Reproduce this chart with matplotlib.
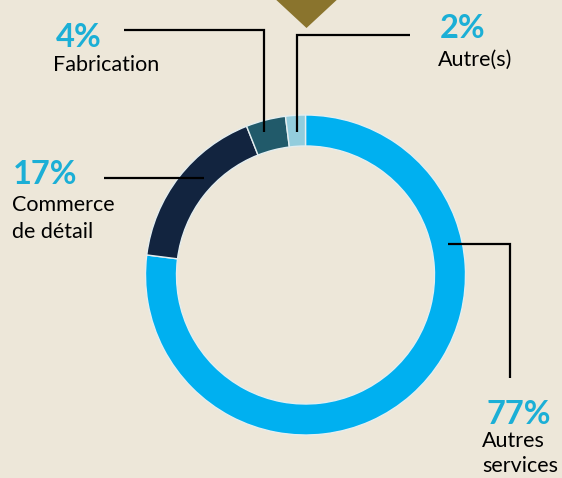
import matplotlib.pyplot as plt
from matplotlib.patches import Polygon

plt.rcParams['font.family'] = ['Lato', 'DejaVu Sans']

# données
secteurs = ['Autres\nservices', 'Commerce\nde détail', 'Fabrication', 'Autre(s)']
parts = [77, 17, 4, 2]
couleurs = ['#00B0F0', '#12243F', '#215A6A', '#93CDDD']

fond = '#EDE7D9'
cyan = '#1BAFD6'
W, H = 562, 478

fig = plt.figure(figsize=(W / 100, H / 100), dpi=100, facecolor=fond)
ax = fig.add_axes([0, 0, 1, 1])
ax.set_facecolor(fond)


def Y(y):
    # coordonnées pixel (haut = 0) -> coordonnées de l'axe
    return H - y


# anneau
ax.pie(parts, colors=couleurs, startangle=90, counterclock=False,
       radius=160, center=(305.5, Y(275)),
       wedgeprops=dict(width=31, edgecolor='#E4EEF0', linewidth=1.0))

# triangle en haut
ax.add_patch(Polygon([(272, Y(-4)), (341, Y(-4)), (306.5, Y(28))],
                     closed=True, color='#8A742D', lw=0))

# lignes de rappel
lignes = [
    ([124, 264, 264], [30, 30, 132]),
    ([410, 297, 297], [35, 35, 132]),
    ([104, 204], [178, 178]),
    ([448, 510, 510], [244, 244, 378]),
]
for xs, ys in lignes:
    ax.plot(xs, [Y(v) for v in ys], color='black', lw=1.6,
            solid_capstyle='butt', solid_joinstyle='miter')

# étiquettes : (pourcentage, x, baseline), (texte, x, baseline, interligne)
etiquettes = [
    (0, 487, 424, 482, 447, 25),
    (1, 13, 184, 12, 211, 27),
    (2, 56, 47, 53, 70.5, 27),
    (3, 440, 37.5, 438, 65.5, 27),
]
for i, xp, yp, xt, yt, dy in etiquettes:
    ax.text(xp, Y(yp), f'{parts[i]}%', color=cyan, fontsize=23.5,
            fontweight='bold', ha='left', va='baseline')
    for k, ligne in enumerate(secteurs[i].split('\n')):
        ax.text(xt, Y(yt + dy * k), ligne, color='black', fontsize=15.5,
                ha='left', va='baseline')

ax.set_xlim(0, W)
ax.set_ylim(0, H)
ax.set_aspect('equal')
ax.axis('off')

plt.savefig('out.png', dpi=100, facecolor=fond)
